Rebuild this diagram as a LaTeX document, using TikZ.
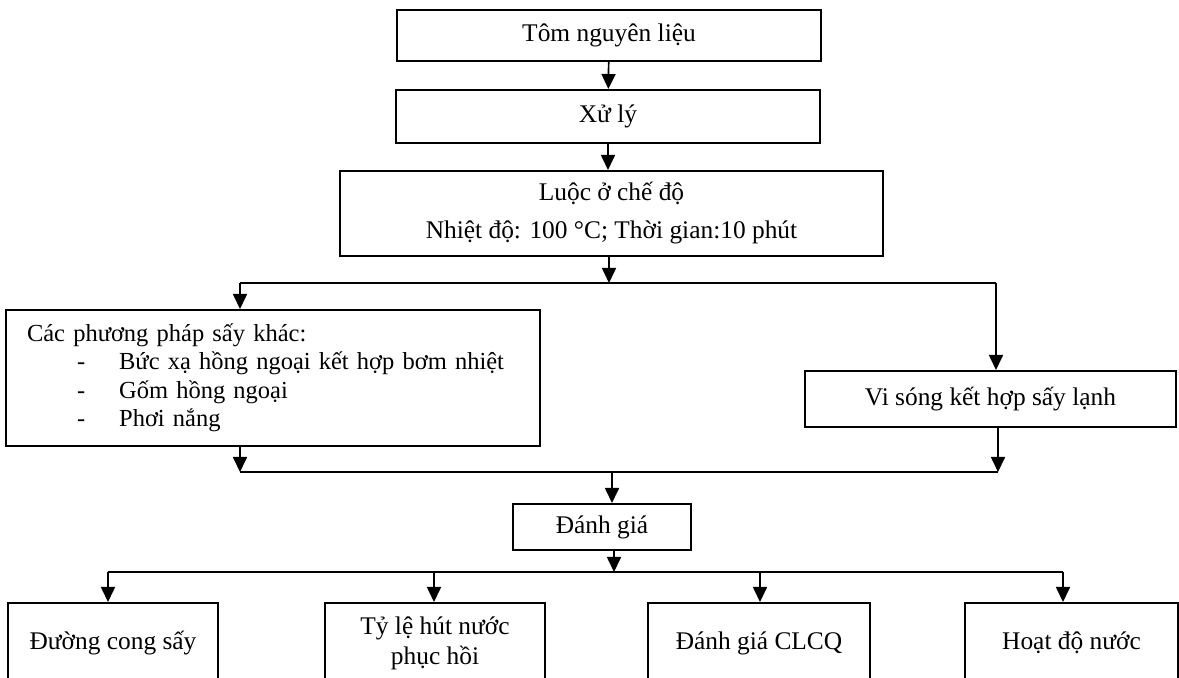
\documentclass[tikz,border=0pt]{standalone}
\usepackage{fontspec}
\setmainfont{Liberation Serif}
\usetikzlibrary{arrows.meta}
\tikzset{
  box/.style={draw, line width=1pt, inner sep=0pt, align=center, font=\fontsize{12.7}{19}\selectfont},
  flow/.style={line width=0.85pt, -{Triangle[length=7.5pt,width=7pt]}},
  link/.style={line width=0.85pt}
}

\begin{document}
\begin{tikzpicture}[x=0.5pt, y=-0.5pt]
        \clip (0,0) rectangle (1179,678);

        \node[box, minimum width=212pt, minimum height=25.5pt] (tom) at (609,35.5) {Tôm nguyên liệu};
        \node[box, minimum width=212pt, minimum height=26.5pt] (xuly) at (608,116.5) {Xử lý};
        \node[box, minimum width=271.5pt, minimum height=42.5pt] (luoc) at (611.5,213.5) {Luộc ở chế độ\\Nhiệt độ: 100 °C; Thời gian:10 phút};

        \node[box, align=left, text width=246pt, minimum width=267pt, minimum height=68pt, font=\fontsize{12.25}{14.25}\selectfont] (khac) at (273,378)
            {Các phương pháp sấy khác:\\
             \hspace*{25pt}-\hspace*{17pt}Bức xạ hồng ngoại kết hợp bơm nhiệt\\
             \hspace*{25pt}-\hspace*{17pt}Gốm hồng ngoại\\
             \hspace*{25pt}-\hspace*{17pt}Phơi nắng};
        \node[box, minimum width=185.5pt, minimum height=28pt] (visong) at (990.5,399) {Vi sóng kết hợp sấy lạnh};

        \node[box, minimum width=89pt, minimum height=23pt] (danhgia) at (602,527) {Đánh giá};

        \node[box, minimum width=105pt, minimum height=40pt] (duong) at (113,643) {Đường cong sấy};
        \node[box, minimum width=110pt, minimum height=40pt, font=\fontsize{12.7}{15}\selectfont] (tyle) at (435,643) {Tỷ lệ hút nước\\phục hồi};
        \node[box, minimum width=111pt, minimum height=40pt] (clcq) at (759,643) {Đánh giá CLCQ};
        \node[box, minimum width=106.5pt, minimum height=40pt] (hoat) at (1071.5,643) {Hoạt độ nước};

        % main line
        \draw[flow] (tom) -- (xuly);
        \draw[flow] (xuly) -- (luoc.north -| xuly);

        % split into the drying methods
        \coordinate (splitL) at (240,283);
        \coordinate (splitR) at (996,283);
        \draw[flow] (luoc.south -| tom) -- (splitL -| tom);
        \draw[link] (splitL) -- (splitR);
        \draw[flow] (splitL) -- (splitL |- khac.north);
        \draw[flow] (splitR) -- (splitR |- visong.north);

        % merge
        \coordinate (mergeL) at (240,472);
        \coordinate (mergeR) at (998,472);
        \coordinate (mergeC) at (612,472);
        \draw[flow] (mergeL |- khac.south) -- (mergeL);
        \draw[flow] (mergeR |- visong.south) -- (mergeR);
        \draw[link] (mergeL) -- (mergeR);
        \draw[flow] (mergeC) -- (mergeC |- danhgia.north);

        % evaluation
        \coordinate (splitB) at (614,572);
        \coordinate (endL) at (108,572);
        \coordinate (endR) at (1063,572);
        \draw[flow] (splitB |- danhgia.south) -- (splitB);
        \draw[link] (endL) -- (endR);
        \foreach \n/\x in {duong/108, tyle/434, clcq/760, hoat/1063}{
            \coordinate (t\n) at (\x,572);
            \draw[flow] (t\n) -- (t\n |- \n.north);
        }
    \end{tikzpicture}
\end{document}
